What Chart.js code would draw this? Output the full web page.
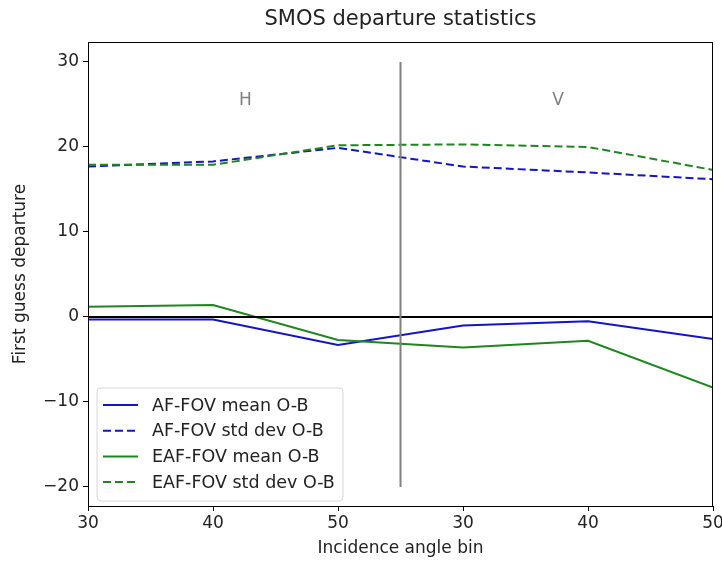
<!DOCTYPE html>
<html>
<head>
<meta charset="utf-8">
<script src="https://cdn.jsdelivr.net/npm/chart.js@4"></script>
<style>
html,body{margin:0;padding:0;background:#fff;}
#wrap{width:722px;height:563px;position:relative;}
</style>
</head>
<body>
<div id="wrap"><canvas id="c" width="722" height="563"></canvas></div>
<script>
// ---- data ----
const tickLabels = ['30', '40', '50', '30', '40', '50'];
const xIndex = [0, 1, 2, 3, 4, 5];
const afMean  = [-0.3, -0.3, -3.3, -1.0, -0.5, -2.6];
const afStd   = [17.7, 18.3, 19.9, 17.7, 17.0, 16.2];
const eafMean = [1.2, 1.4, -2.7, -3.6, -2.8, -8.3];
const eafStd  = [17.9, 17.9, 20.2, 20.3, 20.0, 17.3];
const seriesNames = ['AF-FOV mean O-B', 'AF-FOV std dev O-B', 'EAF-FOV mean O-B', 'EAF-FOV std dev O-B'];
const yTicks = [-20, -10, 0, 10, 20, 30];
const separatorX = [2.5, 2.5];
const separatorY = [-20, 30];
const zeroX = [0, 5];
const zeroY = [0, 0];
const panelLabels = ['H', 'V'];
const panelLabelX = [1.26, 3.76];
const panelLabelY = [25.5, 25.5];

const FONT = "'DejaVu Sans', sans-serif";
const FS = 17;
const BLUE = '#1414c4';
const GREEN = '#1f861f';

function pts(xs, ys) { return xs.map((x, i) => ({x: x, y: ys[i]})); }

const datasets = [
  {label: seriesNames[0], data: pts(xIndex, afMean), borderColor: BLUE, borderWidth: 2, borderDash: [], order: 4},
  {label: seriesNames[1], data: pts(xIndex, afStd), borderColor: BLUE, borderWidth: 2, borderDash: [8, 4], order: 3},
  {label: seriesNames[2], data: pts(xIndex, eafMean), borderColor: GREEN, borderWidth: 2, borderDash: [], order: 2},
  {label: seriesNames[3], data: pts(xIndex, eafStd), borderColor: GREEN, borderWidth: 2, borderDash: [8, 4], order: 1},
  {label: '_zero', data: pts(zeroX, zeroY), borderColor: '#000', borderWidth: 2, order: 0, isRef: true},
  {label: '_sep', data: pts(separatorX, separatorY), borderColor: '#808080', borderWidth: 2, order: -1, isRef: true}
];
datasets.forEach(d => { d.pointRadius = 0; d.fill = false; d.tension = 0; d.backgroundColor = d.borderColor; });

const decor = {
  id: 'decor',
  afterDraw(chart) {
    const ctx = chart.ctx, a = chart.chartArea;
    const xs = chart.scales.x, ys = chart.scales.y;
    ctx.save();
    // frame
    ctx.strokeStyle = '#000'; ctx.lineWidth = 1;
    ctx.strokeRect(a.left + 0.5, a.top + 0.5, a.right - a.left - 1, a.bottom - a.top);
    // title
    ctx.fillStyle = '#222'; ctx.font = '21px ' + FONT;
    ctx.textAlign = 'center'; ctx.textBaseline = 'middle';
    ctx.fillText('SMOS departure statistics', (a.left + a.right) / 2, 20);
    // panel labels
    ctx.fillStyle = '#808080'; ctx.font = FS + 'px ' + FONT;
    panelLabels.forEach((t, i) => ctx.fillText(t, xs.getPixelForValue(panelLabelX[i]), ys.getPixelForValue(panelLabelY[i])));
    // legend
    const bx = a.left + 9, by = a.bottom - 118, bw = 246, bh = 113;
    ctx.beginPath();
    const r = 4;
    ctx.moveTo(bx + r, by); ctx.lineTo(bx + bw - r, by); ctx.quadraticCurveTo(bx + bw, by, bx + bw, by + r);
    ctx.lineTo(bx + bw, by + bh - r); ctx.quadraticCurveTo(bx + bw, by + bh, bx + bw - r, by + bh);
    ctx.lineTo(bx + r, by + bh); ctx.quadraticCurveTo(bx, by + bh, bx, by + bh - r);
    ctx.lineTo(bx, by + r); ctx.quadraticCurveTo(bx, by, bx + r, by);
    ctx.closePath();
    ctx.fillStyle = 'rgba(255,255,255,0.85)'; ctx.fill();
    ctx.strokeStyle = '#d6d6d6'; ctx.lineWidth = 1; ctx.stroke();
    ctx.font = '17.5px ' + FONT; ctx.textAlign = 'left'; ctx.textBaseline = 'middle'; ctx.fillStyle = '#222';
    chart.data.datasets.filter(d => !d.isRef).forEach((d, i) => {
      const y = by + 17 + i * 25.7;
      ctx.beginPath(); ctx.strokeStyle = d.borderColor; ctx.lineWidth = 2;
      ctx.setLineDash(d.borderDash || []);
      ctx.moveTo(bx + 6, y); ctx.lineTo(bx + 41, y); ctx.stroke();
      ctx.setLineDash([]);
      ctx.fillText(d.label, bx + 55, y + 1);
    });
    ctx.restore();
  }
};

new Chart(document.getElementById('c'), {
  type: 'line',
  data: {datasets: datasets},
  options: {
    responsive: false, animation: false,
    layout: {padding: {top: 42, right: 9, left: 0, bottom: 0}},
    plugins: {legend: {display: false}, tooltip: {enabled: false}, title: {display: false}},
    scales: {
      x: {
        type: 'linear', min: 0, max: 5,
        afterFit(s) { s.height = 57; s.paddingLeft = 0; s.paddingRight = 0; },
        afterBuildTicks(s) { s.ticks = xIndex.map(v => ({value: v})); },
        ticks: {callback: (v) => tickLabels[v], color: '#222', font: {family: FONT, size: FS}, padding: 2, maxRotation: 0, autoSkip: false},
        grid: {drawOnChartArea: false, drawTicks: true, tickLength: 5, color: '#000'},
        border: {display: true, color: '#000'},
        title: {display: true, text: 'Incidence angle bin', color: '#222', font: {family: FONT, size: FS}, padding: {top: 5}}
      },
      y: {
        type: 'linear', min: -22.24, max: 32.35,
        afterFit(s) { s.width = 88; },
        afterBuildTicks(s) { s.ticks = yTicks.map(v => ({value: v})); },
        ticks: {callback: (v) => (v < 0 ? '\u2212' + Math.abs(v) : String(v)), color: '#222', font: {family: FONT, size: FS}, padding: 4},
        grid: {drawOnChartArea: false, drawTicks: true, tickLength: 5, color: '#000'},
        border: {display: true, color: '#000'},
        title: {display: true, text: 'First guess departure', color: '#222', font: {family: FONT, size: FS}, padding: {top: 10, bottom: 0}}
      }
    }
  },
  plugins: [decor]
});
</script>
</body>
</html>
